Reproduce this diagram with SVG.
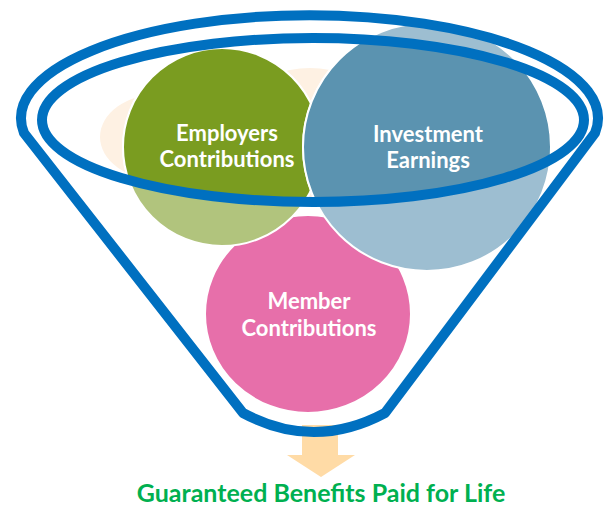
<svg xmlns="http://www.w3.org/2000/svg" width="607" height="506" viewBox="0 0 607 506">
<defs>
<style>
.lbl{font-family:Lato,"Open Sans","Liberation Sans",sans-serif;font-size:22px;font-weight:bold;fill:#FFFFFF;text-anchor:middle}
.out{stroke:#FFFFFF;stroke-width:2}
.rim{fill:none;stroke:#0070C0;stroke-width:10;stroke-linejoin:round}
.pch{fill:#FEF1E3}
.cap{font-family:Lato,"Open Sans","Liberation Sans",sans-serif;font-size:25px;font-weight:bold;fill:#00B050;text-anchor:middle}
</style>
<clipPath id="inner"><ellipse cx="313" cy="120" rx="271" ry="82"/></clipPath>
</defs>
<rect width="607" height="506" fill="#FFFFFF"/>
<g id="arrow"><polygon points="302,425 338,425 338,455 355,455 321,477 287,455 302,455" fill="#FFDBA6"/></g>
<g id="peach" clip-path="url(#inner)">
<ellipse class="pch" cx="160" cy="137" rx="60" ry="43"/>
<circle class="pch" cx="310" cy="170" r="102"/>
</g>
<g id="member">
<ellipse cx="308" cy="314" rx="103" ry="99" fill="#E76FAA" class="out"/>
<text class="lbl" x="309" y="309">Member</text>
<text class="lbl" x="309" y="336">Contributions</text>
</g>
<g id="employers">
<circle cx="222" cy="147" r="99" fill="#B1C47D" class="out"/>
<circle cx="222" cy="147" r="99" fill="#7A9C20" class="out" clip-path="url(#inner)"/>
<text class="lbl" x="227" y="141">Employers</text>
<text class="lbl" x="227" y="167">Contributions</text>
</g>
<g id="investment">
<circle cx="427" cy="147" r="124" fill="#9DBED1" class="out"/>
<circle cx="427" cy="147" r="124" fill="#5B93B0" class="out" clip-path="url(#inner)"/>
<text class="lbl" x="428" y="142">Investment</text>
<text class="lbl" x="428" y="168">Earnings</text>
</g>
<g id="funnel">
<path class="rim" d="M24,133 A288.5,103 0 1 1 595,133 L385,413 Q314,451 243,413 Z"/>
<ellipse class="rim" cx="313" cy="120" rx="271" ry="82"/>
</g>
<g id="connectors"></g>
<text class="cap" x="321" y="502">Guaranteed Benefits Paid for Life</text>
</svg>
